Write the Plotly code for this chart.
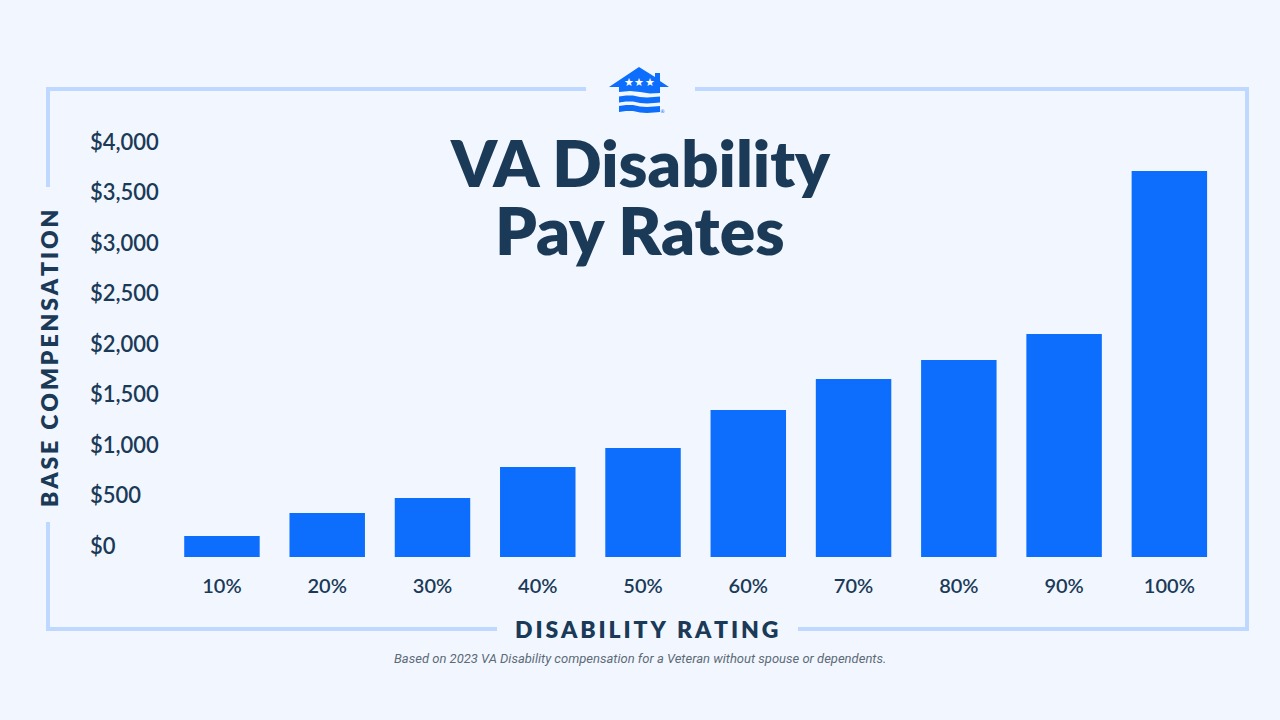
import plotly.graph_objects as go

ratings = ["10%", "20%", "30%", "40%", "50%", "60%", "70%", "80%", "90%", "100%"]
base_pay = [208, 436, 584, 891, 1079, 1455, 1762, 1950, 2208, 3822]
y_ticks = [0, 500, 1000, 1500, 2000, 2500, 3000, 3500, 4000]
y_labels = ["$0", "$500", "$1,000", "$1,500", "$2,000", "$2,500", "$3,000", "$3,500", "$4,000"]

W, H = 1280, 720
BG = "#f2f7ff"
BLUE = "#0d6efd"
NAVY = "#1b3a57"
FRAME = "#bfd8ff"
FONT = "Lato"
GAP = "\u200a\u200a"


def px(x):
    return x / W


def py(y):
    return 1 - y / H


def spaced(s):
    return GAP.join(s)


def seg(x0, y0, x1, y1):
    return dict(type="line", xref="paper", yref="paper", x0=px(x0), y0=py(y0), x1=px(x1), y1=py(y1),
                line=dict(color=FRAME, width=4), layer="below")


def poly(points):
    p = "M " + " L ".join(f"{px(a):.5f},{py(b):.5f}" for a, b in points) + " Z"
    return dict(type="path", xref="paper", yref="paper", path=p, fillcolor=BLUE, line=dict(width=0))


def wave(y):
    top = [(619, y + 1), (626, y), (633, y), (640, y + 1.5), (647, y + 2), (654, y + 1.5), (660, y + 1)]
    bot = [(660, y + 7), (654, y + 7.5), (647, y + 8), (640, y + 7.5), (633, y + 6), (626, y + 6), (619, y + 7)]
    return poly(top + bot)


shapes = [
    seg(46, 89, 586, 89), seg(695, 89, 1249, 89),
    seg(48, 87, 48, 187), seg(48, 522, 48, 631),
    seg(46, 629, 497, 629), seg(798, 629, 1249, 629),
    seg(1247, 87, 1247, 631),
    poly([(609, 87), (639, 67), (655, 77), (655, 73), (660, 73), (660, 81), (669, 87),
          (660, 87), (660, 93), (650, 93.5), (640, 92), (630, 91), (619, 92), (619, 87)]),
    wave(95.5), wave(105),
]

annotations = [
    dict(text="VA Disability", x=px(640), y=py(162), font=dict(size=65, color=NAVY, family=FONT, weight=800)),
    dict(text="Pay Rates", x=px(640), y=py(230), font=dict(size=66, color=NAVY, family=FONT, weight=800)),
    dict(text=spaced("BASE COMPENSATION"), x=px(49), y=py(359), textangle=-90,
         font=dict(size=23, color=NAVY, family=FONT, weight=800)),
    dict(text=spaced("DISABILITY RATING"), x=px(646), y=py(629), font=dict(size=23, color=NAVY, family=FONT, weight=800)),
    dict(text="<i>Based on 2023 VA Disability compensation for a Veteran without spouse or dependents.</i>",
         x=px(640), y=py(658.5), font=dict(size=13, color="#5d6b78", family="Roboto")),
    dict(text="®", x=px(662.7), y=py(110.5), font=dict(size=5, color=BLUE, family="DejaVu Sans")),
]
for sx in (628.7, 639.3, 650.3):
    annotations.append(dict(text="★", x=px(sx), y=py(82.5), font=dict(size=11, color="#ffffff", family="DejaVu Sans")))
for a in annotations:
    a.update(xref="paper", yref="paper", showarrow=False, xanchor="center", yanchor="middle")

fig = go.Figure(go.Bar(x=ratings, y=base_pay, marker=dict(color=BLUE, line=dict(width=0)), width=0.717))

SCALE = 414 / 4099  # pixels per dollar, used only to extend the axis past the labels
fig.update_layout(
    width=W, height=H, margin=dict(l=0, r=0, t=0, b=0, autoexpand=False),
    paper_bgcolor=BG, plot_bgcolor=BG, showlegend=False,
    shapes=shapes, annotations=annotations,
    xaxis=dict(domain=[px(87), px(1222)], range=[-1.282, 9.5], type="category",
               categoryorder="array", categoryarray=ratings, tickmode="array",
               tickvals=ratings, ticktext=ratings, showgrid=False, zeroline=False, showline=False,
               ticks="outside", ticklen=1, tickcolor="rgba(0,0,0,0)", ticklabelstandoff=-6,
               tickfont=dict(size=20, color=NAVY, family=FONT, weight=600)),
    yaxis=dict(domain=[py(573), py(123)], range=[-16 / SCALE, 434 / SCALE], tickmode="array",
               tickvals=y_ticks, ticktext=y_labels, showgrid=False, zeroline=False, showline=False,
               ticklabelposition="inside", ticklabelshift=-11,
               tickfont=dict(size=22, color=NAVY, family=FONT, weight=600)),
    bargap=0.283,
)

fig.write_html("out.html", config={"displayModeBar": False},
               post_script="document.body.style.margin='0';document.body.style.background='%s';" % BG)
